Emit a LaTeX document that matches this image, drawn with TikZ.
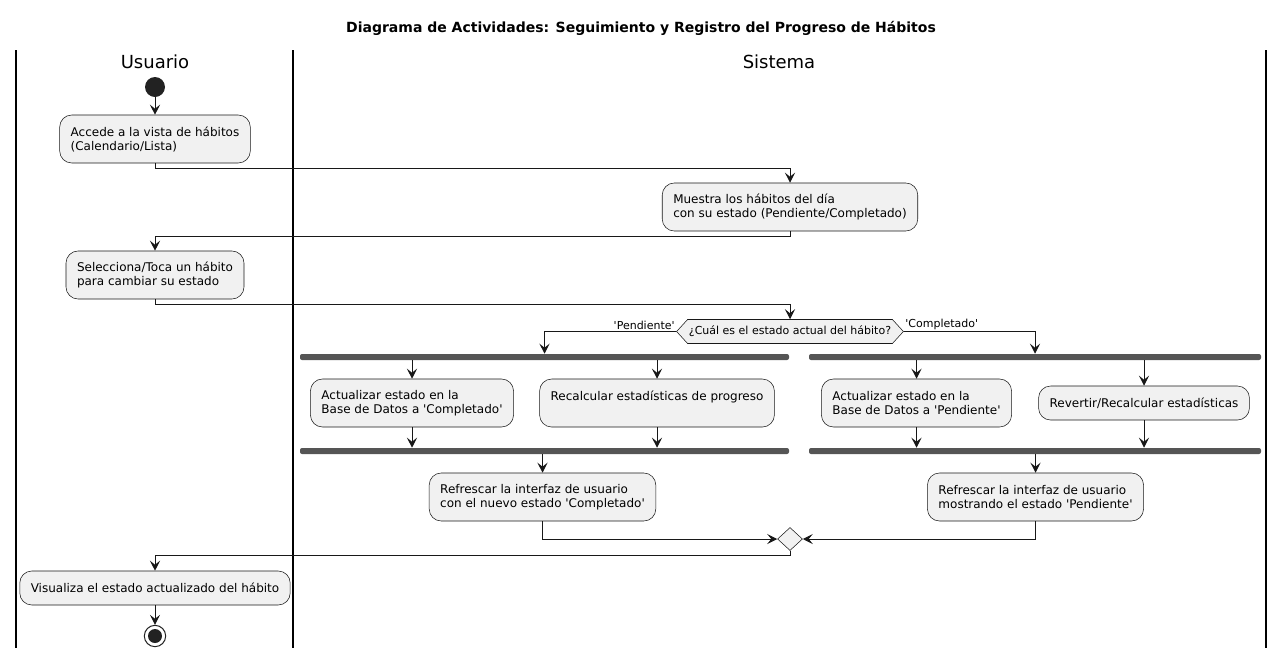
\documentclass[tikz,border=0pt]{standalone}
\usepackage{fontspec}
\setmainfont{DejaVu Sans}
\usetikzlibrary{arrows.meta,shapes.geometric,shapes.symbols}
\definecolor{boxfill}{HTML}{F1F1F1}
\definecolor{linecol}{HTML}{181818}
\definecolor{barcol}{HTML}{555555}
\definecolor{dotcol}{HTML}{222222}
\newcommand{\sq}{\textquotesingle}

\begin{document}
\begin{tikzpicture}[x=0.75pt,y=0.75pt,yscale=-1,xscale=1,
  act/.style={draw=linecol,fill=boxfill,line width=0.4pt,rounded corners=9pt,align=left,inner xsep=8.25pt,inner ysep=0pt,minimum height=36pt,font=\fontsize{9}{10.5}\selectfont},
  actone/.style={act,minimum height=25.5pt},
  flow/.style={draw=linecol,line width=0.75pt,-{Stealth[length=7.5pt,width=7.5pt,inset=3pt]}},
  bar/.style={fill=barcol,rounded corners=1.5pt,minimum height=4.5pt,inner sep=0pt},
  lbl/.style={inner sep=1pt,font=\fontsize{8.25}{10}\selectfont},
  lane/.style={line width=1.1pt,draw=black}]
\useasboundingbox (0,0) rectangle (1283,658);

% Title
\node (title) at (641,28) {\fontsize{10.5}{12}\selectfont\bfseries Diagrama de Actividades: Seguimiento y Registro del Progreso de Hábitos};

%Swimlanes
\draw [lane] (16,50) -- (16,648);
\draw [lane] (293,50) -- (293,648);
\draw [lane] (1266,50) -- (1266,648);
\node (usuario) at (155,62) {\fontsize{13.5}{15}\selectfont Usuario};
\node (sistema) at (779,62) {\fontsize{13.5}{15}\selectfont Sistema};

%Start / stop
\node [circle,fill=dotcol,minimum size=15pt,inner sep=0pt] (start) at (155,87) {};
\node [circle,draw=dotcol,line width=0.75pt,fill=white,minimum size=16pt,inner sep=0pt] (stop) at (155,636) {};
\fill [dotcol] (stop.center) circle [radius=5.25pt];

%Activities
\node [act] (A) at (155,139) {Accede a la vista de hábitos\\(Calendario/Lista)};
\node [act] (B) at (790,207) {Muestra los hábitos del día\\con su estado (Pendiente/Completado)};
\node [act] (C) at (155,275) {Selecciona/Toca un hábito\\para cambiar su estado};
\node [act] (D) at (412,403) {Actualizar estado en la\\Base de Datos a \sq Completado\sq};
\node [act] (E) at (657,403) {Recalcular estadísticas de progreso\\\mbox{}};
\node [act] (F) at (542.5,497) {Refrescar la interfaz de usuario\\con el nuevo estado \sq Completado\sq};
\node [act] (G) at (916.5,403) {Actualizar estado en la\\Base de Datos a \sq Pendiente\sq};
\node [actone] (H) at (1144,403) {Revertir/Recalcular estadísticas};
\node [act] (I) at (1035.5,497) {Refrescar la interfaz de usuario\\mostrando el estado \sq Pendiente\sq};
\node [actone] (J) at (155,588) {Visualiza el estado actualizado del hábito};

%Decision / merge
\node [signal,signal to=west and east,signal pointer angle=95,draw=linecol,fill=boxfill,line width=0.4pt,minimum height=18pt,inner xsep=1pt,inner ysep=0pt,font=\fontsize{8.25}{10}\selectfont] (Q) at (790,331.5) {¿Cuál es el estado actual del hábito?};
\node [diamond,draw=linecol,fill=boxfill,line width=0.4pt,minimum width=18.75pt,minimum height=17.25pt,inner sep=0pt] (M) at (790,539) {};
\node [lbl,anchor=south east] (lblP) at (Q.west) {\sq Pendiente\sq};
\node [lbl,anchor=south west] (lblC) at (Q.east) {\sq Completado\sq};

%Fork / join bars
\node [bar,minimum width=366.75pt] (forkL) at (544.5,357) {};
\node [bar,minimum width=366.75pt] (joinL) at (544.5,451) {};
\node [bar,minimum width=339pt] (forkR) at (1035,357) {};
\node [bar,minimum width=339pt] (joinR) at (1035,451) {};

%Flows
\draw [flow] (start) -- (A);
\draw [flow] (A.south) -- ++(0,5) -| (B.north);
\draw [flow] (B.south) -- ++(0,5) -| (C.north);
\draw [flow] (C.south) -- ++(0,5) -| (Q.north);
\draw [flow] (Q.west) -| (forkL);
\draw [flow] (Q.east) -| (forkR);
\draw [flow] (forkL.south -| D.north) -- (D.north);
\draw [flow] (forkL.south -| E.north) -- (E.north);
\draw [flow] (D.south) -- (D.south |- joinL.north);
\draw [flow] (E.south) -- (E.south |- joinL.north);
\draw [flow] (joinL.south -| F.north) -- (F.north);
\draw [flow] (forkR.south -| G.north) -- (G.north);
\draw [flow] (forkR.south -| H.north) -- (H.north);
\draw [flow] (G.south) -- (G.south |- joinR.north);
\draw [flow] (H.south) -- (H.south |- joinR.north);
\draw [flow] (joinR.south -| I.north) -- (I.north);
\draw [flow] (F.south) |- (M.west);
\draw [flow] (I.south) |- (M.east);
\draw [flow] (M.south) -- ++(0,5) -| (J.north);
\draw [flow] (J) -- (stop);

\end{tikzpicture}
\end{document}
